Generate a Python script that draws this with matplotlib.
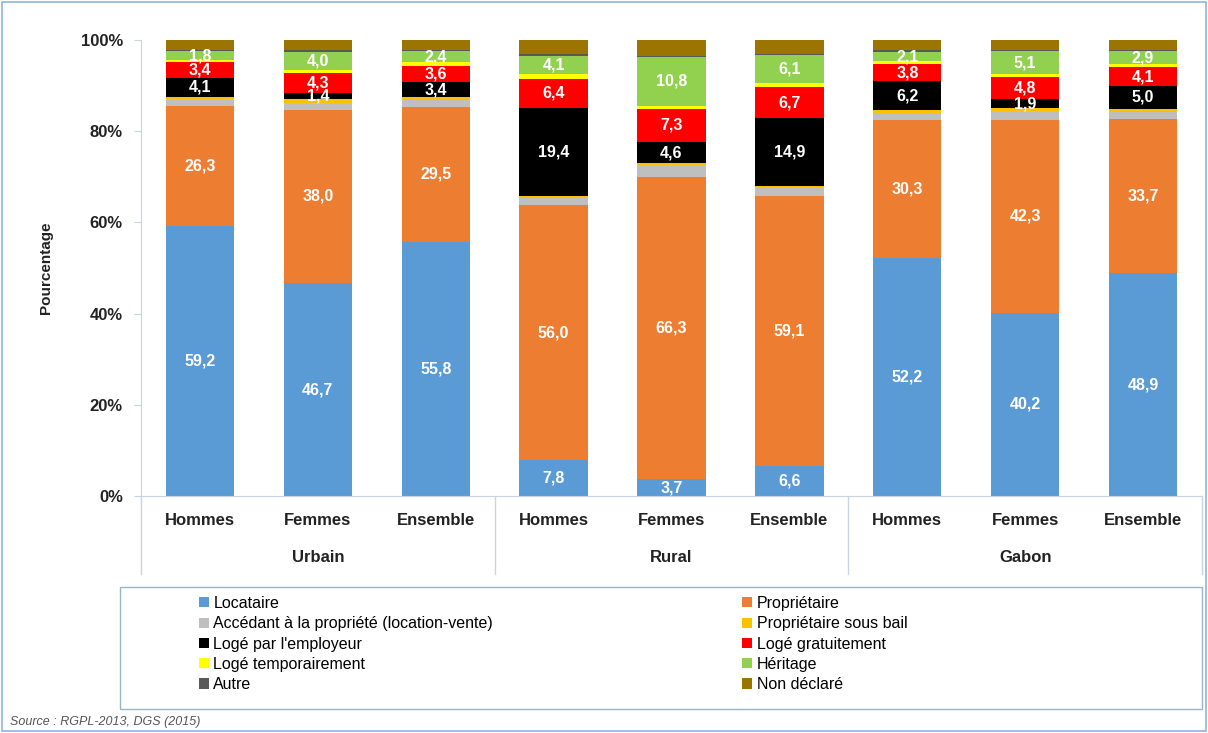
import numpy as np
import matplotlib.pyplot as plt
from matplotlib.patches import Rectangle, Patch
from matplotlib.transforms import blended_transform_factory

plt.rcParams['font.family'] = ['Liberation Sans', 'DejaVu Sans']

groups = ["Urbain", "Rural", "Gabon"]
sexes = ["Hommes", "Femmes", "Ensemble"]

series = ["Locataire", "Propriétaire", "Accédant à la propriété (location-vente)",
          "Propriétaire sous bail", "Logé par l'employeur", "Logé gratuitement",
          "Logé temporairement", "Héritage", "Autre", "Non déclaré"]
colors = ["#5B9BD5", "#ED7D31", "#BFBFBF", "#FFC000", "#000000", "#FF0000",
          "#FFFF00", "#92D050", "#595959", "#9C7400"]

# order: Urbain H/F/E, Rural H/F/E, Gabon H/F/E
locataire    = [59.2, 46.7, 55.8, 7.8, 3.7, 6.6, 52.2, 40.2, 48.9]
proprietaire = [26.3, 38.0, 29.5, 56.0, 66.3, 59.1, 30.3, 42.3, 33.7]
accedant     = [1.5, 1.5, 1.5, 1.5, 2.5, 1.8, 1.6, 2.0, 1.7]
sous_bail    = [0.6, 0.8, 0.6, 0.4, 0.5, 0.5, 0.6, 0.6, 0.6]
employeur    = [4.1, 1.4, 3.4, 19.4, 4.6, 14.9, 6.2, 1.9, 5.0]
gratuit      = [3.4, 4.3, 3.6, 6.4, 7.3, 6.7, 3.8, 4.8, 4.1]
temporaire   = [0.6, 0.7, 0.7, 1.0, 0.6, 1.0, 0.6, 0.7, 0.7]
heritage     = [1.8, 4.0, 2.4, 4.1, 10.8, 6.1, 2.1, 5.1, 2.9]
autre        = [0.3, 0.3, 0.3, 0.3, 0.3, 0.3, 0.3, 0.3, 0.3]
non_declare  = [2.2, 2.3, 2.2, 3.1, 3.4, 3.0, 2.3, 2.1, 2.1]

data = [locataire, proprietaire, accedant, sous_bail, employeur, gratuit,
        temporaire, heritage, autre, non_declare]
labelled = {0, 1, 4, 5, 7}
axis_col = "#C8D4E0"

fig = plt.figure(figsize=(12.08, 7.33), dpi=100)
ax = fig.add_axes([141 / 1208, 1 - 496 / 733, (1202 - 141) / 1208, (496 - 40) / 733])

x = np.arange(len(locataire))
bottom = np.zeros(len(x))
for i, (vals, col) in enumerate(zip(data, colors)):
    vals = np.array(vals)
    ax.bar(x, vals, bottom=bottom, width=0.58, color=col, label=series[i])
    if i in labelled:
        for xi, v, b in zip(x, vals, bottom):
            ax.text(xi, b + v / 2, f"{v:.1f}".replace(".", ","), ha="center", va="center",
                    color="white", fontsize=11.5, fontweight="bold")
    bottom += vals

ax.set_xlim(-0.5, len(x) - 0.5)
ax.set_ylim(0, 100)
ax.set_yticks(range(0, 101, 20))
ax.set_yticklabels([f"{v}%" for v in range(0, 101, 20)], fontsize=12, fontweight="bold",
                   color="#222222")
ax.set_ylabel("Pourcentage", fontsize=11, fontweight="bold", labelpad=20, color="#222222")
ax.tick_params(axis="y", length=5, direction="out", color=axis_col, pad=8)
ax.tick_params(axis="x", length=0, pad=12)
ax.set_xticks(x)
ax.set_xticklabels(sexes * len(groups), fontsize=12, fontweight="bold", color="#222222")
for s in ["top", "right"]:
    ax.spines[s].set_visible(False)
ax.spines["bottom"].set_color(axis_col)
ax.spines["left"].set_color(axis_col)

trans = blended_transform_factory(ax.transData, ax.transAxes)
for g, name in enumerate(groups):
    ax.text(g * 3 + 1, -0.135, name, transform=trans, ha="center", va="center",
            fontsize=12, fontweight="bold", color="#222222")
for g in range(len(groups) + 1):
    ax.plot([g * 3 - 0.5] * 2, [0, -0.17], transform=trans, color=axis_col,
            lw=1, clip_on=False)

# legend box
fig.patches.append(Rectangle((120 / 1208, 1 - 709 / 733), (1202 - 120) / 1208, (709 - 587) / 733,
                             transform=fig.transFigure, fill=False, edgecolor="#9DB3C8", lw=1))
handles = [Patch(facecolor=c, label=s) for c, s in zip(colors, series)]
order = [0, 2, 4, 6, 8, 1, 3, 5, 7, 9]
fig.legend([handles[i] for i in order], [series[i] for i in order], ncol=2,
           loc="upper left", bbox_to_anchor=(191 / 1208, 1 - 588 / 733), frameon=False,
           fontsize=11.5, handlelength=0.6, handleheight=0.6, handletextpad=0.3,
           labelspacing=0.33, columnspacing=15.6, borderpad=0)

fig.text(10 / 1208, 1 - 722 / 733, "Source : RGPL-2013, DGS (2015)", fontsize=9,
         style="italic", color="#555555", va="center")

# outer chart border
fig.patches.append(Rectangle((2 / 1208, 2 / 733), 1 - 4 / 1208, 1 - 4 / 733,
                             transform=fig.transFigure, fill=False, edgecolor="#8DB4E2", lw=1.2))

fig.savefig("out.png", dpi=100)
